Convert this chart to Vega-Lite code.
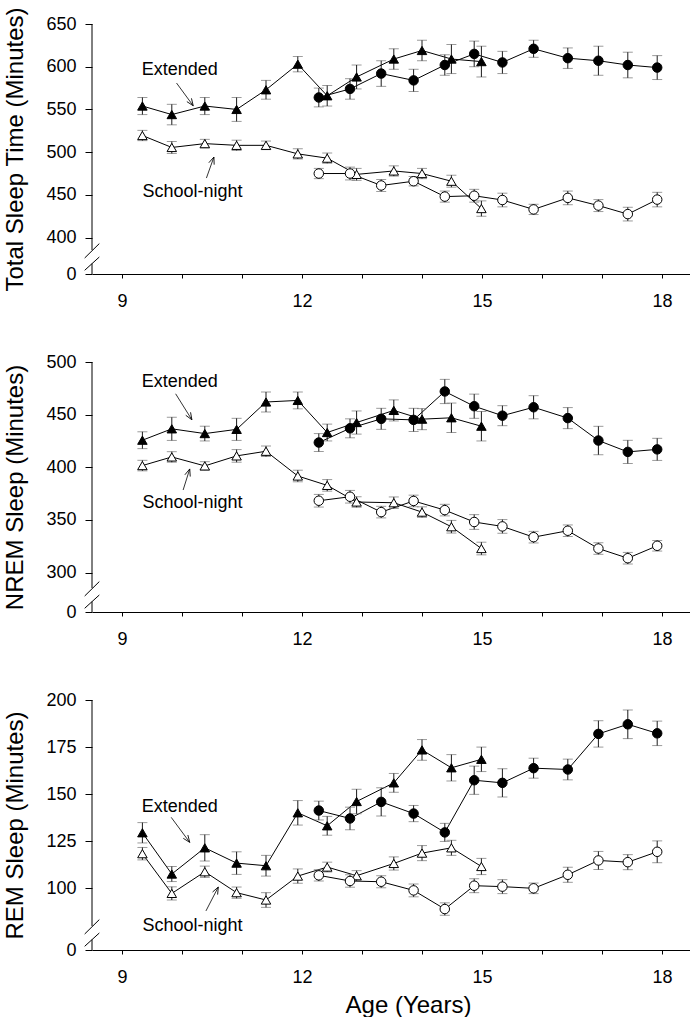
{
  "$schema": "https://vega.github.io/schema/vega-lite/v6.json",
  "padding": {"left": 3, "top": 6, "right": 0, "bottom": 0},
  "bounds": "flush",
  "spacing": 88,
  "config": {
    "view": {"stroke": null},
    "font": "Liberation Sans",
    "axis": {"grid": false, "domainColor": "black", "tickColor": "black", "labelColor": "black", "titleColor": "black", "labelFont": "Liberation Sans", "titleFont": "Liberation Sans", "labelFontSize": 18, "titleFontSize": 24, "titleFontWeight": "normal"},
    "text": {"font": "Liberation Sans"}
  },
  "datasets": {
    "sleep": [
      {"m":"TST","cohort":"A","condition":"Extended","age":9.34,"value":554,"err":10},
      {"m":"TST","cohort":"A","condition":"Extended","age":9.83,"value":544,"err":12},
      {"m":"TST","cohort":"A","condition":"Extended","age":10.38,"value":554,"err":10},
      {"m":"TST","cohort":"A","condition":"Extended","age":10.91,"value":550,"err":14},
      {"m":"TST","cohort":"A","condition":"Extended","age":11.4,"value":573,"err":11},
      {"m":"TST","cohort":"A","condition":"Extended","age":11.93,"value":603,"err":9},
      {"m":"TST","cohort":"A","condition":"Extended","age":12.42,"value":566,"err":12},
      {"m":"TST","cohort":"A","condition":"Extended","age":12.91,"value":588,"err":14},
      {"m":"TST","cohort":"A","condition":"Extended","age":13.53,"value":609,"err":12},
      {"m":"TST","cohort":"A","condition":"Extended","age":14.0,"value":619,"err":12},
      {"m":"TST","cohort":"A","condition":"Extended","age":14.49,"value":609,"err":17},
      {"m":"TST","cohort":"A","condition":"Extended","age":14.99,"value":606,"err":18},
      {"m":"TST","cohort":"B","condition":"Extended","age":12.28,"value":564,"err":11},
      {"m":"TST","cohort":"B","condition":"Extended","age":12.8,"value":574,"err":12},
      {"m":"TST","cohort":"B","condition":"Extended","age":13.32,"value":592,"err":15},
      {"m":"TST","cohort":"B","condition":"Extended","age":13.86,"value":584,"err":13},
      {"m":"TST","cohort":"B","condition":"Extended","age":14.38,"value":602,"err":12},
      {"m":"TST","cohort":"B","condition":"Extended","age":14.87,"value":615,"err":15},
      {"m":"TST","cohort":"B","condition":"Extended","age":15.34,"value":605,"err":13},
      {"m":"TST","cohort":"B","condition":"Extended","age":15.86,"value":621,"err":10},
      {"m":"TST","cohort":"B","condition":"Extended","age":16.43,"value":610,"err":12},
      {"m":"TST","cohort":"B","condition":"Extended","age":16.94,"value":607,"err":17},
      {"m":"TST","cohort":"B","condition":"Extended","age":17.43,"value":602,"err":15},
      {"m":"TST","cohort":"B","condition":"Extended","age":17.92,"value":599,"err":14},
      {"m":"TST","cohort":"A","condition":"School-night","age":9.34,"value":519.5,"err":6},
      {"m":"TST","cohort":"A","condition":"School-night","age":9.83,"value":505.5,"err":7},
      {"m":"TST","cohort":"A","condition":"School-night","age":10.38,"value":510,"err":5},
      {"m":"TST","cohort":"A","condition":"School-night","age":10.91,"value":508,"err":6},
      {"m":"TST","cohort":"A","condition":"School-night","age":11.4,"value":508,"err":5},
      {"m":"TST","cohort":"A","condition":"School-night","age":11.93,"value":498,"err":6},
      {"m":"TST","cohort":"A","condition":"School-night","age":12.42,"value":493,"err":6},
      {"m":"TST","cohort":"A","condition":"School-night","age":12.91,"value":474,"err":7},
      {"m":"TST","cohort":"A","condition":"School-night","age":13.53,"value":478,"err":6},
      {"m":"TST","cohort":"A","condition":"School-night","age":14.0,"value":475,"err":6},
      {"m":"TST","cohort":"A","condition":"School-night","age":14.49,"value":466,"err":7},
      {"m":"TST","cohort":"A","condition":"School-night","age":14.99,"value":434,"err":9},
      {"m":"TST","cohort":"B","condition":"School-night","age":12.28,"value":475,"err":6},
      {"m":"TST","cohort":"B","condition":"School-night","age":12.8,"value":475,"err":7.5},
      {"m":"TST","cohort":"B","condition":"School-night","age":13.32,"value":461,"err":7},
      {"m":"TST","cohort":"B","condition":"School-night","age":13.86,"value":466,"err":5.5},
      {"m":"TST","cohort":"B","condition":"School-night","age":14.38,"value":448,"err":6.5},
      {"m":"TST","cohort":"B","condition":"School-night","age":14.87,"value":449,"err":7.5},
      {"m":"TST","cohort":"B","condition":"School-night","age":15.34,"value":444,"err":8},
      {"m":"TST","cohort":"B","condition":"School-night","age":15.86,"value":433,"err":6},
      {"m":"TST","cohort":"B","condition":"School-night","age":16.43,"value":446.5,"err":8},
      {"m":"TST","cohort":"B","condition":"School-night","age":16.94,"value":437.5,"err":7},
      {"m":"TST","cohort":"B","condition":"School-night","age":17.43,"value":427.5,"err":8},
      {"m":"TST","cohort":"B","condition":"School-night","age":17.92,"value":444.5,"err":8.5},

      {"m":"NREM","cohort":"A","condition":"Extended","age":9.34,"value":425.7,"err":8},
      {"m":"NREM","cohort":"A","condition":"Extended","age":9.83,"value":436.5,"err":11},
      {"m":"NREM","cohort":"A","condition":"Extended","age":10.38,"value":432,"err":7},
      {"m":"NREM","cohort":"A","condition":"Extended","age":10.91,"value":436,"err":10.5},
      {"m":"NREM","cohort":"A","condition":"Extended","age":11.4,"value":462,"err":9.5},
      {"m":"NREM","cohort":"A","condition":"Extended","age":11.93,"value":463.5,"err":8},
      {"m":"NREM","cohort":"A","condition":"Extended","age":12.42,"value":433,"err":8},
      {"m":"NREM","cohort":"A","condition":"Extended","age":12.91,"value":442.5,"err":11},
      {"m":"NREM","cohort":"A","condition":"Extended","age":13.53,"value":454,"err":10},
      {"m":"NREM","cohort":"A","condition":"Extended","age":14.0,"value":445.7,"err":10},
      {"m":"NREM","cohort":"A","condition":"Extended","age":14.49,"value":447,"err":14},
      {"m":"NREM","cohort":"A","condition":"Extended","age":14.99,"value":439,"err":14},
      {"m":"NREM","cohort":"B","condition":"Extended","age":12.28,"value":423.5,"err":8.5},
      {"m":"NREM","cohort":"B","condition":"Extended","age":12.8,"value":437,"err":9},
      {"m":"NREM","cohort":"B","condition":"Extended","age":13.32,"value":446,"err":10},
      {"m":"NREM","cohort":"B","condition":"Extended","age":13.86,"value":445,"err":11},
      {"m":"NREM","cohort":"B","condition":"Extended","age":14.38,"value":472,"err":11.5},
      {"m":"NREM","cohort":"B","condition":"Extended","age":14.87,"value":458,"err":11.5},
      {"m":"NREM","cohort":"B","condition":"Extended","age":15.34,"value":449,"err":9.5},
      {"m":"NREM","cohort":"B","condition":"Extended","age":15.86,"value":457,"err":11},
      {"m":"NREM","cohort":"B","condition":"Extended","age":16.43,"value":446.7,"err":10},
      {"m":"NREM","cohort":"B","condition":"Extended","age":16.94,"value":425.4,"err":13.5},
      {"m":"NREM","cohort":"B","condition":"Extended","age":17.43,"value":414.6,"err":11},
      {"m":"NREM","cohort":"B","condition":"Extended","age":17.92,"value":417,"err":10.5},
      {"m":"NREM","cohort":"A","condition":"School-night","age":9.34,"value":401.6,"err":5},
      {"m":"NREM","cohort":"A","condition":"School-night","age":9.83,"value":409.8,"err":5},
      {"m":"NREM","cohort":"A","condition":"School-night","age":10.38,"value":401.3,"err":4},
      {"m":"NREM","cohort":"A","condition":"School-night","age":10.91,"value":410.8,"err":6},
      {"m":"NREM","cohort":"A","condition":"School-night","age":11.4,"value":415.2,"err":5},
      {"m":"NREM","cohort":"A","condition":"School-night","age":11.93,"value":391.7,"err":5.5},
      {"m":"NREM","cohort":"A","condition":"School-night","age":12.42,"value":382.8,"err":5.5},
      {"m":"NREM","cohort":"A","condition":"School-night","age":12.91,"value":367,"err":5},
      {"m":"NREM","cohort":"A","condition":"School-night","age":13.53,"value":366.3,"err":5.5},
      {"m":"NREM","cohort":"A","condition":"School-night","age":14.0,"value":357.4,"err":5},
      {"m":"NREM","cohort":"A","condition":"School-night","age":14.49,"value":343.5,"err":6},
      {"m":"NREM","cohort":"A","condition":"School-night","age":14.99,"value":322.8,"err":6},
      {"m":"NREM","cohort":"B","condition":"School-night","age":12.28,"value":368.2,"err":6},
      {"m":"NREM","cohort":"B","condition":"School-night","age":12.8,"value":372,"err":6},
      {"m":"NREM","cohort":"B","condition":"School-night","age":13.32,"value":357.4,"err":5.5},
      {"m":"NREM","cohort":"B","condition":"School-night","age":13.86,"value":368,"err":5.5},
      {"m":"NREM","cohort":"B","condition":"School-night","age":14.38,"value":359.3,"err":5.5},
      {"m":"NREM","cohort":"B","condition":"School-night","age":14.87,"value":348,"err":7},
      {"m":"NREM","cohort":"B","condition":"School-night","age":15.34,"value":343.8,"err":6.5},
      {"m":"NREM","cohort":"B","condition":"School-night","age":15.86,"value":333.6,"err":5.5},
      {"m":"NREM","cohort":"B","condition":"School-night","age":16.43,"value":339.7,"err":5.5},
      {"m":"NREM","cohort":"B","condition":"School-night","age":16.94,"value":322.8,"err":5.5},
      {"m":"NREM","cohort":"B","condition":"School-night","age":17.43,"value":313.6,"err":5.5},
      {"m":"NREM","cohort":"B","condition":"School-night","age":17.92,"value":325.4,"err":5},

      {"m":"REM","cohort":"A","condition":"Extended","age":9.34,"value":129.5,"err":5.4},
      {"m":"REM","cohort":"A","condition":"Extended","age":9.83,"value":107.6,"err":4},
      {"m":"REM","cohort":"A","condition":"Extended","age":10.38,"value":121.5,"err":7},
      {"m":"REM","cohort":"A","condition":"Extended","age":10.91,"value":113.4,"err":6},
      {"m":"REM","cohort":"A","condition":"Extended","age":11.4,"value":112,"err":5.5},
      {"m":"REM","cohort":"A","condition":"Extended","age":11.93,"value":140.1,"err":6.5},
      {"m":"REM","cohort":"A","condition":"Extended","age":12.42,"value":133.2,"err":5},
      {"m":"REM","cohort":"A","condition":"Extended","age":12.91,"value":146.1,"err":6.5},
      {"m":"REM","cohort":"A","condition":"Extended","age":13.53,"value":156,"err":5},
      {"m":"REM","cohort":"A","condition":"Extended","age":14.0,"value":173.5,"err":5.5},
      {"m":"REM","cohort":"A","condition":"Extended","age":14.49,"value":164,"err":7},
      {"m":"REM","cohort":"A","condition":"Extended","age":14.99,"value":168.5,"err":6.5},
      {"m":"REM","cohort":"B","condition":"Extended","age":12.28,"value":141.3,"err":5},
      {"m":"REM","cohort":"B","condition":"Extended","age":12.8,"value":137.1,"err":6},
      {"m":"REM","cohort":"B","condition":"Extended","age":13.32,"value":145.9,"err":7.5},
      {"m":"REM","cohort":"B","condition":"Extended","age":13.86,"value":139.7,"err":4.3},
      {"m":"REM","cohort":"B","condition":"Extended","age":14.38,"value":129.7,"err":4.8},
      {"m":"REM","cohort":"B","condition":"Extended","age":14.87,"value":157.4,"err":7.5},
      {"m":"REM","cohort":"B","condition":"Extended","age":15.34,"value":156,"err":7.5},
      {"m":"REM","cohort":"B","condition":"Extended","age":15.86,"value":163.8,"err":5.3},
      {"m":"REM","cohort":"B","condition":"Extended","age":16.43,"value":163.1,"err":5.5},
      {"m":"REM","cohort":"B","condition":"Extended","age":16.94,"value":182,"err":7},
      {"m":"REM","cohort":"B","condition":"Extended","age":17.43,"value":187.1,"err":7.6},
      {"m":"REM","cohort":"B","condition":"Extended","age":17.92,"value":182.3,"err":6.5},
      {"m":"REM","cohort":"A","condition":"School-night","age":9.34,"value":118.4,"err":3.3},
      {"m":"REM","cohort":"A","condition":"School-night","age":9.83,"value":97.3,"err":3.5},
      {"m":"REM","cohort":"A","condition":"School-night","age":10.38,"value":108.8,"err":3},
      {"m":"REM","cohort":"A","condition":"School-night","age":10.91,"value":97.7,"err":3},
      {"m":"REM","cohort":"A","condition":"School-night","age":11.4,"value":93.8,"err":3.9},
      {"m":"REM","cohort":"A","condition":"School-night","age":11.93,"value":106.5,"err":3.8},
      {"m":"REM","cohort":"A","condition":"School-night","age":12.42,"value":111.3,"err":2.6},
      {"m":"REM","cohort":"A","condition":"School-night","age":12.91,"value":106.7,"err":2.7},
      {"m":"REM","cohort":"A","condition":"School-night","age":13.53,"value":113.2,"err":3.5},
      {"m":"REM","cohort":"A","condition":"School-night","age":14.0,"value":118.7,"err":4},
      {"m":"REM","cohort":"A","condition":"School-night","age":14.49,"value":121.5,"err":4},
      {"m":"REM","cohort":"A","condition":"School-night","age":14.99,"value":111.6,"err":4.3},
      {"m":"REM","cohort":"B","condition":"School-night","age":12.28,"value":106.9,"err":3},
      {"m":"REM","cohort":"B","condition":"School-night","age":12.8,"value":103.9,"err":3.3},
      {"m":"REM","cohort":"B","condition":"School-night","age":13.32,"value":103.5,"err":3.2},
      {"m":"REM","cohort":"B","condition":"School-night","age":13.86,"value":98.9,"err":3.4},
      {"m":"REM","cohort":"B","condition":"School-night","age":14.38,"value":89,"err":3.3},
      {"m":"REM","cohort":"B","condition":"School-night","age":14.87,"value":101.4,"err":3.7},
      {"m":"REM","cohort":"B","condition":"School-night","age":15.34,"value":100.9,"err":3.7},
      {"m":"REM","cohort":"B","condition":"School-night","age":15.86,"value":100,"err":2.8},
      {"m":"REM","cohort":"B","condition":"School-night","age":16.43,"value":107.2,"err":4},
      {"m":"REM","cohort":"B","condition":"School-night","age":16.94,"value":114.8,"err":4.8},
      {"m":"REM","cohort":"B","condition":"School-night","age":17.43,"value":113.9,"err":4},
      {"m":"REM","cohort":"B","condition":"School-night","age":17.92,"value":119.4,"err":5.8}
    ],
    "breaks": [
      {"m":"TST","age":8.5,"age2":8.5,"value":385.5,"value2":650},
      {"m":"TST","age":8.5,"age2":8.5,"value":0,"value2":167},
      {"m":"TST","age":8.378,"age2":8.622,"value":257,"value2":393},
      {"m":"TST","age":8.378,"age2":8.622,"value":59.4,"value2":273},
      {"m":"NREM","age":8.5,"age2":8.5,"value":285.3,"value2":500},
      {"m":"NREM","age":8.5,"age2":8.5,"value":0,"value2":123.7},
      {"m":"NREM","age":8.378,"age2":8.622,"value":190.2,"value2":291.4},
      {"m":"NREM","age":8.378,"age2":8.622,"value":44,"value2":202.1},
      {"m":"REM","age":8.5,"age2":8.5,"value":80,"value2":200},
      {"m":"REM","age":8.5,"age2":8.5,"value":0,"value2":34.7},
      {"m":"REM","age":8.378,"age2":8.622,"value":53.3,"value2":83.4},
      {"m":"REM","age":8.378,"age2":8.622,"value":12.3,"value2":56.7}
    ],
    "labels": [
      {"m":"TST","label":"Extended","age":9.964,"value":589.8},
      {"m":"TST","label":"School-night","age":10.176,"value":448.1},
      {"m":"NREM","label":"Extended","age":9.964,"value":475.8},
      {"m":"NREM","label":"School-night","age":10.176,"value":361},
      {"m":"REM","label":"Extended","age":9.964,"value":140.7},
      {"m":"REM","label":"School-night","age":10.176,"value":63.3}
    ],
    "arrows": [
      {"m":"TST","cond":"Extended","age":9.909,"value":580.9,"age2":10.187,"value2":554.3},
      {"m":"TST","cond":"School-night","age":10.407,"value":469.7,"age2":10.532,"value2":494.3},
      {"m":"NREM","cond":"Extended","age":9.894,"value":469.8,"age2":10.165,"value2":445.1},
      {"m":"NREM","cond":"School-night","age":10.019,"value":378.4,"age2":10.129,"value2":398.4},
      {"m":"REM","cond":"Extended","age":9.82,"value":137.7,"age2":10.129,"value2":124.4},
      {"m":"REM","cond":"School-night","age":10.399,"value":88,"age2":10.605,"value2":100.7}
    ]
  },
  "vconcat": [
    {
      "width": 600, "height": 250,
      "encoding": {
        "x": {"field": "age", "type": "quantitative", "scale": {"domain": [8.5, 18.5], "nice": false, "zero": false}, "axis": {"values": [9,10,11,12,13,14,15,16,17,18], "labelExpr": "datum.value % 3 == 0 ? datum.label : ''", "tickSize": 4, "labelPadding": 14, "title": null}},
        "y": {"field": "value", "type": "quantitative", "scale": {"domain": [0, 385.5, 650], "range": [250, 226, 0], "nice": false, "zero": false}, "axis": {"values": [0,400,450,500,550,600,650], "domain": false, "tickSize": 7, "labelPadding": 9, "title": "Total Sleep Time (Minutes)", "titlePadding": 18}}
      },
      "layer": [
        {"data": {"name": "breaks"}, "transform": [{"filter": "datum.m == 'TST'"}], "mark": {"type": "rule", "color": "black", "strokeWidth": 1}, "encoding": {"x2": {"field": "age2"}, "y2": {"field": "value2"}}},
        {"data": {"name": "sleep"}, "transform": [{"filter": "datum.m == 'TST'"}], "mark": {"type": "line", "color": "black", "strokeWidth": 1}, "encoding": {"detail": [{"field": "cohort"}, {"field": "condition"}]}},
        {"data": {"name": "sleep"}, "transform": [{"filter": "datum.m == 'TST'"}], "mark": {"type": "errorbar", "color": "#1a1a1a", "ticks": {"color": "#707070"}, "size": 10, "thickness": 1}, "encoding": {"yError": {"field": "err"}}},
        {"data": {"name": "sleep"}, "transform": [{"filter": "datum.m == 'TST'"}], "mark": {"type": "point", "filled": true, "stroke": "black", "strokeWidth": 1, "size": 90, "opacity": 1}, "encoding": {"shape": {"field": "cohort", "scale": {"domain": ["A", "B"], "range": ["triangle-up", "circle"]}, "legend": null}, "fill": {"field": "condition", "scale": {"domain": ["Extended", "School-night"], "range": ["black", "white"]}, "legend": null}}},
        {"data": {"name": "labels"}, "transform": [{"filter": "datum.m == 'TST'"}], "mark": {"type": "text", "fontSize": 18, "align": "center", "baseline": "alphabetic", "color": "black"}, "encoding": {"text": {"field": "label"}}},
        {"data": {"name": "arrows"}, "transform": [{"filter": "datum.m == 'TST'"}], "mark": {"type": "rule", "color": "black", "strokeWidth": 0.8}, "encoding": {"x2": {"field": "age2"}, "y2": {"field": "value2"}}},
        {"data": {"name": "arrows"}, "transform": [{"filter": "datum.m == 'TST' && datum.cond == 'Extended'"}], "mark": {"type": "point", "shape": "M-0.4,1L0,0L0.4,1", "filled": false, "stroke": "black", "strokeWidth": 0.8, "size": 200, "angle": 145, "opacity": 1}, "encoding": {"x": {"field": "age2", "type": "quantitative"}, "y": {"field": "value2", "type": "quantitative"}}},
        {"data": {"name": "arrows"}, "transform": [{"filter": "datum.m == 'TST' && datum.cond == 'School-night'"}], "mark": {"type": "point", "shape": "M-0.4,1L0,0L0.4,1", "filled": false, "stroke": "black", "strokeWidth": 0.8, "size": 200, "angle": 20, "opacity": 1}, "encoding": {"x": {"field": "age2", "type": "quantitative"}, "y": {"field": "value2", "type": "quantitative"}}}
      ]
    },
    {
      "width": 600, "height": 250,
      "encoding": {
        "x": {"field": "age", "type": "quantitative", "scale": {"domain": [8.5, 18.5], "nice": false, "zero": false}, "axis": {"values": [9,10,11,12,13,14,15,16,17,18], "labelExpr": "datum.value % 3 == 0 ? datum.label : ''", "tickSize": 4, "labelPadding": 14, "title": null}},
        "y": {"field": "value", "type": "quantitative", "scale": {"domain": [0, 285.3, 500], "range": [250, 226, 0], "nice": false, "zero": false}, "axis": {"values": [0,300,350,400,450,500], "domain": false, "tickSize": 7, "labelPadding": 9, "title": "NREM Sleep (Minutes)", "titlePadding": 18}}
      },
      "layer": [
        {"data": {"name": "breaks"}, "transform": [{"filter": "datum.m == 'NREM'"}], "mark": {"type": "rule", "color": "black", "strokeWidth": 1}, "encoding": {"x2": {"field": "age2"}, "y2": {"field": "value2"}}},
        {"data": {"name": "sleep"}, "transform": [{"filter": "datum.m == 'NREM'"}], "mark": {"type": "line", "color": "black", "strokeWidth": 1}, "encoding": {"detail": [{"field": "cohort"}, {"field": "condition"}]}},
        {"data": {"name": "sleep"}, "transform": [{"filter": "datum.m == 'NREM'"}], "mark": {"type": "errorbar", "color": "#1a1a1a", "ticks": {"color": "#707070"}, "size": 10, "thickness": 1}, "encoding": {"yError": {"field": "err"}}},
        {"data": {"name": "sleep"}, "transform": [{"filter": "datum.m == 'NREM'"}], "mark": {"type": "point", "filled": true, "stroke": "black", "strokeWidth": 1, "size": 90, "opacity": 1}, "encoding": {"shape": {"field": "cohort", "scale": {"domain": ["A", "B"], "range": ["triangle-up", "circle"]}, "legend": null}, "fill": {"field": "condition", "scale": {"domain": ["Extended", "School-night"], "range": ["black", "white"]}, "legend": null}}},
        {"data": {"name": "labels"}, "transform": [{"filter": "datum.m == 'NREM'"}], "mark": {"type": "text", "fontSize": 18, "align": "center", "baseline": "alphabetic", "color": "black"}, "encoding": {"text": {"field": "label"}}},
        {"data": {"name": "arrows"}, "transform": [{"filter": "datum.m == 'NREM'"}], "mark": {"type": "rule", "color": "black", "strokeWidth": 0.8}, "encoding": {"x2": {"field": "age2"}, "y2": {"field": "value2"}}},
        {"data": {"name": "arrows"}, "transform": [{"filter": "datum.m == 'NREM' && datum.cond == 'Extended'"}], "mark": {"type": "point", "shape": "M-0.4,1L0,0L0.4,1", "filled": false, "stroke": "black", "strokeWidth": 0.8, "size": 200, "angle": 148, "opacity": 1}, "encoding": {"x": {"field": "age2", "type": "quantitative"}, "y": {"field": "value2", "type": "quantitative"}}},
        {"data": {"name": "arrows"}, "transform": [{"filter": "datum.m == 'NREM' && datum.cond == 'School-night'"}], "mark": {"type": "point", "shape": "M-0.4,1L0,0L0.4,1", "filled": false, "stroke": "black", "strokeWidth": 0.8, "size": 200, "angle": 18, "opacity": 1}, "encoding": {"x": {"field": "age2", "type": "quantitative"}, "y": {"field": "value2", "type": "quantitative"}}}
      ]
    },
    {
      "width": 600, "height": 250,
      "encoding": {
        "x": {"field": "age", "type": "quantitative", "scale": {"domain": [8.5, 18.5], "nice": false, "zero": false}, "axis": {"values": [9,10,11,12,13,14,15,16,17,18], "labelExpr": "datum.value % 3 == 0 ? datum.label : ''", "tickSize": 4, "labelPadding": 14, "title": "Age (Years)", "titlePadding": 7, "titleX": 316}},
        "y": {"field": "value", "type": "quantitative", "scale": {"domain": [0, 80, 200], "range": [250, 226, 0], "nice": false, "zero": false}, "axis": {"values": [0,100,125,150,175,200], "domain": false, "tickSize": 7, "labelPadding": 9, "title": "REM Sleep (Minutes)", "titlePadding": 18}}
      },
      "layer": [
        {"data": {"name": "breaks"}, "transform": [{"filter": "datum.m == 'REM'"}], "mark": {"type": "rule", "color": "black", "strokeWidth": 1}, "encoding": {"x2": {"field": "age2"}, "y2": {"field": "value2"}}},
        {"data": {"name": "sleep"}, "transform": [{"filter": "datum.m == 'REM'"}], "mark": {"type": "line", "color": "black", "strokeWidth": 1}, "encoding": {"detail": [{"field": "cohort"}, {"field": "condition"}]}},
        {"data": {"name": "sleep"}, "transform": [{"filter": "datum.m == 'REM'"}], "mark": {"type": "errorbar", "color": "#1a1a1a", "ticks": {"color": "#707070"}, "size": 10, "thickness": 1}, "encoding": {"yError": {"field": "err"}}},
        {"data": {"name": "sleep"}, "transform": [{"filter": "datum.m == 'REM'"}], "mark": {"type": "point", "filled": true, "stroke": "black", "strokeWidth": 1, "size": 90, "opacity": 1}, "encoding": {"shape": {"field": "cohort", "scale": {"domain": ["A", "B"], "range": ["triangle-up", "circle"]}, "legend": null}, "fill": {"field": "condition", "scale": {"domain": ["Extended", "School-night"], "range": ["black", "white"]}, "legend": null}}},
        {"data": {"name": "labels"}, "transform": [{"filter": "datum.m == 'REM'"}], "mark": {"type": "text", "fontSize": 18, "align": "center", "baseline": "alphabetic", "color": "black"}, "encoding": {"text": {"field": "label"}}},
        {"data": {"name": "arrows"}, "transform": [{"filter": "datum.m == 'REM'"}], "mark": {"type": "rule", "color": "black", "strokeWidth": 0.8}, "encoding": {"x2": {"field": "age2"}, "y2": {"field": "value2"}}},
        {"data": {"name": "arrows"}, "transform": [{"filter": "datum.m == 'REM' && datum.cond == 'Extended'"}], "mark": {"type": "point", "shape": "M-0.4,1L0,0L0.4,1", "filled": false, "stroke": "black", "strokeWidth": 0.8, "size": 200, "angle": 144, "opacity": 1}, "encoding": {"x": {"field": "age2", "type": "quantitative"}, "y": {"field": "value2", "type": "quantitative"}}},
        {"data": {"name": "arrows"}, "transform": [{"filter": "datum.m == 'REM' && datum.cond == 'School-night'"}], "mark": {"type": "point", "shape": "M-0.4,1L0,0L0.4,1", "filled": false, "stroke": "black", "strokeWidth": 0.8, "size": 200, "angle": 27, "opacity": 1}, "encoding": {"x": {"field": "age2", "type": "quantitative"}, "y": {"field": "value2", "type": "quantitative"}}}
      ]
    }
  ]
}
